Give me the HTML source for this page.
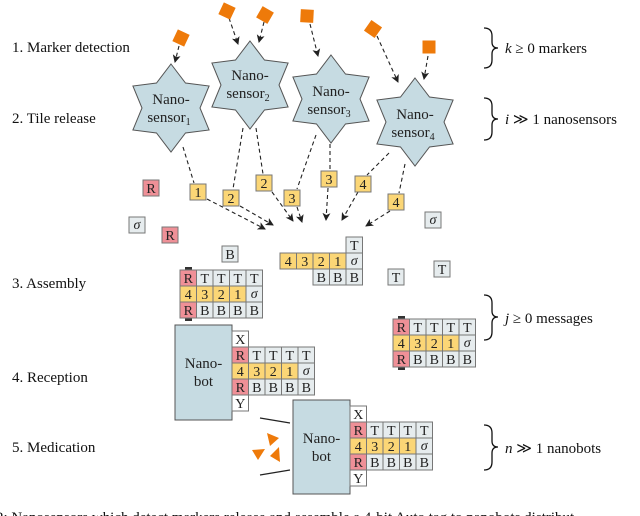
<!DOCTYPE html>
<html><head><meta charset="utf-8"><style>
body{margin:0;background:#fff;}
svg{display:block;font-family:"Liberation Serif",serif;}
.c text{font-size:14px;text-anchor:middle;fill:#222;}
.g{fill:#e6ecee;stroke:#777;stroke-width:1}
.y{fill:#fbd676;stroke:#777;stroke-width:1}
.p{fill:#ef9097;stroke:#777;stroke-width:1}
.w{fill:#fff;stroke:#777;stroke-width:1}
.d{stroke:#222;stroke-width:1.1;stroke-dasharray:4 3;fill:none}
.lab{font-size:15px;fill:#111}
.st{fill:#c6dbe2;stroke:#555;stroke-width:1}
.o{fill:#ee7a0a}
</style></head><body>
<svg width="640" height="516" viewBox="0 0 640 516" xmlns="http://www.w3.org/2000/svg">
<defs><marker id="a" markerWidth="8" markerHeight="8" refX="7" refY="4" orient="auto" markerUnits="userSpaceOnUse"><path d="M0,0 L8,4 L0,8 L2,4z" fill="#222"/></marker></defs>

<text class="lab" x="12" y="52">1. Marker detection</text>
<text class="lab" x="12" y="123">2. Tile release</text>
<text class="lab" x="12" y="288">3. Assembly</text>
<text class="lab" x="12" y="382">4. Reception</text>
<text class="lab" x="12" y="452">5. Medication</text>

<g fill="none" stroke="#111" stroke-width="1.3">
<path d="M484,28 Q492,28 492,36 L492,42 Q492,48 498,48 Q492,48 492,54 L492,60 Q492,68 484,68"/>
<path d="M484,98 Q492,98 492,106 L492,113 Q492,119 498,119 Q492,119 492,125 L492,132 Q492,140 484,140"/>
<path d="M484,295 Q492,295 492,303 L492,311 Q492,317 498,317 Q492,317 492,323 L492,332 Q492,340 484,340"/>
<path d="M484,425 Q492,425 492,433 L492,441 Q492,447 498,447 Q492,447 492,453 L492,462 Q492,470 484,470"/>
</g>
<text class="lab" x="505" y="53"><tspan font-style="italic">k</tspan> ≥ 0 markers</text>
<text class="lab" x="505" y="124"><tspan font-style="italic">i</tspan> ≫ 1 nanosensors</text>
<text class="lab" x="505" y="323"><tspan font-style="italic">j</tspan> ≥ 0 messages</text>
<text class="lab" x="505" y="453"><tspan font-style="italic">n</tspan> ≫ 1 nanobots</text>

<path class="d" d="M179,46 L175,62" marker-end="url(#a)"/>
<path class="d" d="M229,18 L238,44" marker-end="url(#a)"/>
<path class="d" d="M264,22 L259,42" marker-end="url(#a)"/>
<path class="d" d="M310,24 L318,56" marker-end="url(#a)"/>
<path class="d" d="M377,36 L398,82" marker-end="url(#a)"/>
<path class="d" d="M428,56 L424,79" marker-end="url(#a)"/>

<rect class="o" x="-6.5" y="-6.5" width="13" height="13" transform="translate(181,38) rotate(25)"/>
<rect class="o" x="-6.5" y="-6.5" width="13" height="13" transform="translate(227,11) rotate(25)"/>
<rect class="o" x="-6.5" y="-6.5" width="13" height="13" transform="translate(265,15) rotate(30)"/>
<rect class="o" x="-6.5" y="-6.5" width="13" height="13" transform="translate(307,16) rotate(3)"/>
<rect class="o" x="-6.5" y="-6.5" width="13" height="13" transform="translate(373,29) rotate(35)"/>
<rect class="o" x="-6.5" y="-6.5" width="13" height="13" transform="translate(429,47)"/>

<g class="st">
<polygon transform="translate(171,108)" points="0,-44 14.5,-25 38.1,-22 29,0 38.1,22 14.5,25 0,44 -14.5,25 -38.1,22 -29,0 -38.1,-22 -14.5,-25"/>
<polygon transform="translate(250,85)" points="0,-44 14.5,-25 38.1,-22 29,0 38.1,22 14.5,25 0,44 -14.5,25 -38.1,22 -29,0 -38.1,-22 -14.5,-25"/>
<polygon transform="translate(331,99)" points="0,-44 14.5,-25 38.1,-22 29,0 38.1,22 14.5,25 0,44 -14.5,25 -38.1,22 -29,0 -38.1,-22 -14.5,-25"/>
<polygon transform="translate(415,122)" points="0,-44 14.5,-25 38.1,-22 29,0 38.1,22 14.5,25 0,44 -14.5,25 -38.1,22 -29,0 -38.1,-22 -14.5,-25"/>
</g>
<g font-size="15" text-anchor="middle" fill="#222">
<text x="171" y="104">Nano-</text><text x="169" y="122">sensor<tspan font-size="10" dy="3">1</tspan></text>
<text x="250" y="80">Nano-</text><text x="248" y="98">sensor<tspan font-size="10" dy="3">2</tspan></text>
<text x="331" y="96">Nano-</text><text x="329" y="114">sensor<tspan font-size="10" dy="3">3</tspan></text>
<text x="415" y="119">Nano-</text><text x="413" y="137">sensor<tspan font-size="10" dy="3">4</tspan></text>
</g>

<path class="d" d="M183,147 L194,183"/>
<path class="d" d="M243,128 L233,189"/>
<path class="d" d="M256,128 L263,174"/>
<path class="d" d="M316,135 L297,189"/>
<path class="d" d="M330,144 L330,170"/>
<path class="d" d="M389,153 L367,175"/>
<path class="d" d="M405,164 L399,193"/>
<path class="d" d="M207,199 L265,229" marker-end="url(#a)"/>
<path class="d" d="M240,206 L273,225" marker-end="url(#a)"/>
<path class="d" d="M272,192 L293,221" marker-end="url(#a)"/>
<path class="d" d="M297,207 L302,222" marker-end="url(#a)"/>
<path class="d" d="M328,188 L326,220" marker-end="url(#a)"/>
<path class="d" d="M358,192 L342,220" marker-end="url(#a)"/>
<path class="d" d="M390,211 L366,226" marker-end="url(#a)"/>

<g class="c">
<rect class="y" x="190" y="184" width="16" height="16"/><text x="198" y="197">1</text>
<rect class="y" x="223" y="190" width="16" height="16"/><text x="231" y="203">2</text>
<rect class="y" x="256" y="175" width="16" height="16"/><text x="264" y="188">2</text>
<rect class="y" x="284" y="190" width="16" height="16"/><text x="292" y="203">3</text>
<rect class="y" x="321" y="171" width="16" height="16"/><text x="329" y="184">3</text>
<rect class="y" x="355" y="176" width="16" height="16"/><text x="363" y="189">4</text>
<rect class="y" x="388" y="194" width="16" height="16"/><text x="396" y="207">4</text>
<rect class="p" x="143" y="180" width="16" height="16"/><text x="151" y="193">R</text>
<rect class="g" x="129" y="217" width="16" height="16"/><text x="137" y="229" font-style="italic">σ</text>
<rect class="p" x="162" y="227" width="16" height="16"/><text x="170" y="240">R</text>
<rect class="g" x="425" y="212" width="16" height="16"/><text x="433" y="224" font-style="italic">σ</text>
<rect class="g" x="222" y="246" width="16" height="16"/><text x="230" y="259">B</text>
<rect class="g" x="388" y="269" width="16" height="16"/><text x="396" y="282">T</text>
<rect class="g" x="434" y="261" width="16" height="16"/><text x="442" y="274">T</text>
</g>

<g class="c" transform="translate(280,237)">
<rect class="g" x="66" y="0" width="16.5" height="16"/><text x="74.25" y="13">T</text>
<rect class="y" x="0" y="16" width="16.5" height="16"/><text x="8.25" y="29">4</text>
<rect class="y" x="16.5" y="16" width="16.5" height="16"/><text x="24.75" y="29">3</text>
<rect class="y" x="33" y="16" width="16.5" height="16"/><text x="41.25" y="29">2</text>
<rect class="y" x="49.5" y="16" width="16.5" height="16"/><text x="57.75" y="29">1</text>
<rect class="g" x="66" y="16" width="16.5" height="16"/><text x="74.25" y="28" font-style="italic">σ</text>
<rect class="g" x="33" y="32" width="16.5" height="16"/><text x="41.25" y="45">B</text>
<rect class="g" x="49.5" y="32" width="16.5" height="16"/><text x="57.75" y="45">B</text>
<rect class="g" x="66" y="32" width="16.5" height="16"/><text x="74.25" y="45">B</text>
</g>

<g class="c" transform="translate(180,270)">
<rect x="5" y="-3" width="7" height="3" fill="#333"/><rect x="5" y="48" width="7" height="3" fill="#333"/>
<rect class="p" x="0" y="0" width="16.5" height="16"/><text x="8.25" y="13">R</text>
<rect class="g" x="16.5" y="0" width="16.5" height="16"/><text x="24.75" y="13">T</text>
<rect class="g" x="33" y="0" width="16.5" height="16"/><text x="41.25" y="13">T</text>
<rect class="g" x="49.5" y="0" width="16.5" height="16"/><text x="57.75" y="13">T</text>
<rect class="g" x="66" y="0" width="16.5" height="16"/><text x="74.25" y="13">T</text>
<rect class="y" x="0" y="16" width="16.5" height="16"/><text x="8.25" y="29">4</text>
<rect class="y" x="16.5" y="16" width="16.5" height="16"/><text x="24.75" y="29">3</text>
<rect class="y" x="33" y="16" width="16.5" height="16"/><text x="41.25" y="29">2</text>
<rect class="y" x="49.5" y="16" width="16.5" height="16"/><text x="57.75" y="29">1</text>
<rect class="g" x="66" y="16" width="16.5" height="16"/><text x="74.25" y="28" font-style="italic">σ</text>
<rect class="p" x="0" y="32" width="16.5" height="16"/><text x="8.25" y="45">R</text>
<rect class="g" x="16.5" y="32" width="16.5" height="16"/><text x="24.75" y="45">B</text>
<rect class="g" x="33" y="32" width="16.5" height="16"/><text x="41.25" y="45">B</text>
<rect class="g" x="49.5" y="32" width="16.5" height="16"/><text x="57.75" y="45">B</text>
<rect class="g" x="66" y="32" width="16.5" height="16"/><text x="74.25" y="45">B</text>
</g>

<g class="c" transform="translate(393,319)">
<rect x="5" y="-3" width="7" height="3" fill="#333"/><rect x="5" y="48" width="7" height="3" fill="#333"/>
<rect class="p" x="0" y="0" width="16.5" height="16"/><text x="8.25" y="13">R</text>
<rect class="g" x="16.5" y="0" width="16.5" height="16"/><text x="24.75" y="13">T</text>
<rect class="g" x="33" y="0" width="16.5" height="16"/><text x="41.25" y="13">T</text>
<rect class="g" x="49.5" y="0" width="16.5" height="16"/><text x="57.75" y="13">T</text>
<rect class="g" x="66" y="0" width="16.5" height="16"/><text x="74.25" y="13">T</text>
<rect class="y" x="0" y="16" width="16.5" height="16"/><text x="8.25" y="29">4</text>
<rect class="y" x="16.5" y="16" width="16.5" height="16"/><text x="24.75" y="29">3</text>
<rect class="y" x="33" y="16" width="16.5" height="16"/><text x="41.25" y="29">2</text>
<rect class="y" x="49.5" y="16" width="16.5" height="16"/><text x="57.75" y="29">1</text>
<rect class="g" x="66" y="16" width="16.5" height="16"/><text x="74.25" y="28" font-style="italic">σ</text>
<rect class="p" x="0" y="32" width="16.5" height="16"/><text x="8.25" y="45">R</text>
<rect class="g" x="16.5" y="32" width="16.5" height="16"/><text x="24.75" y="45">B</text>
<rect class="g" x="33" y="32" width="16.5" height="16"/><text x="41.25" y="45">B</text>
<rect class="g" x="49.5" y="32" width="16.5" height="16"/><text x="57.75" y="45">B</text>
<rect class="g" x="66" y="32" width="16.5" height="16"/><text x="74.25" y="45">B</text>
</g>

<rect x="175" y="325" width="57" height="95" fill="#c6dbe2" stroke="#555"/>
<text x="203.5" y="368" font-size="15" text-anchor="middle" fill="#222">Nano-</text>
<text x="203.5" y="386" font-size="15" text-anchor="middle" fill="#222">bot</text>
<g class="c" transform="translate(232,331)">
<rect class="w" x="0" y="0" width="16.5" height="16"/><text x="8.25" y="13">X</text>
<rect class="w" x="0" y="64" width="16.5" height="16"/><text x="8.25" y="77">Y</text>
<g transform="translate(0,16)">
<rect class="p" x="0" y="0" width="16.5" height="16"/><text x="8.25" y="13">R</text>
<rect class="g" x="16.5" y="0" width="16.5" height="16"/><text x="24.75" y="13">T</text>
<rect class="g" x="33" y="0" width="16.5" height="16"/><text x="41.25" y="13">T</text>
<rect class="g" x="49.5" y="0" width="16.5" height="16"/><text x="57.75" y="13">T</text>
<rect class="g" x="66" y="0" width="16.5" height="16"/><text x="74.25" y="13">T</text>
<rect class="y" x="0" y="16" width="16.5" height="16"/><text x="8.25" y="29">4</text>
<rect class="y" x="16.5" y="16" width="16.5" height="16"/><text x="24.75" y="29">3</text>
<rect class="y" x="33" y="16" width="16.5" height="16"/><text x="41.25" y="29">2</text>
<rect class="y" x="49.5" y="16" width="16.5" height="16"/><text x="57.75" y="29">1</text>
<rect class="g" x="66" y="16" width="16.5" height="16"/><text x="74.25" y="28" font-style="italic">σ</text>
<rect class="p" x="0" y="32" width="16.5" height="16"/><text x="8.25" y="45">R</text>
<rect class="g" x="16.5" y="32" width="16.5" height="16"/><text x="24.75" y="45">B</text>
<rect class="g" x="33" y="32" width="16.5" height="16"/><text x="41.25" y="45">B</text>
<rect class="g" x="49.5" y="32" width="16.5" height="16"/><text x="57.75" y="45">B</text>
<rect class="g" x="66" y="32" width="16.5" height="16"/><text x="74.25" y="45">B</text>
</g></g>

<path d="M260,418 L290,423 M260,475 L290,470" stroke="#222" stroke-width="1.2"/>
<polygon class="o" points="267,433 279,438 270,446"/>
<polygon class="o" points="252,450 265,449 258,460"/>
<polygon class="o" points="270,456 279,447 280,462"/>
<rect x="293" y="400" width="57" height="94" fill="#c6dbe2" stroke="#555"/>
<text x="321.5" y="443" font-size="15" text-anchor="middle" fill="#222">Nano-</text>
<text x="321.5" y="461" font-size="15" text-anchor="middle" fill="#222">bot</text>
<g class="c" transform="translate(350,406)">
<rect class="w" x="0" y="0" width="16.5" height="16"/><text x="8.25" y="13">X</text>
<rect class="w" x="0" y="64" width="16.5" height="16"/><text x="8.25" y="77">Y</text>
<g transform="translate(0,16)">
<rect class="p" x="0" y="0" width="16.5" height="16"/><text x="8.25" y="13">R</text>
<rect class="g" x="16.5" y="0" width="16.5" height="16"/><text x="24.75" y="13">T</text>
<rect class="g" x="33" y="0" width="16.5" height="16"/><text x="41.25" y="13">T</text>
<rect class="g" x="49.5" y="0" width="16.5" height="16"/><text x="57.75" y="13">T</text>
<rect class="g" x="66" y="0" width="16.5" height="16"/><text x="74.25" y="13">T</text>
<rect class="y" x="0" y="16" width="16.5" height="16"/><text x="8.25" y="29">4</text>
<rect class="y" x="16.5" y="16" width="16.5" height="16"/><text x="24.75" y="29">3</text>
<rect class="y" x="33" y="16" width="16.5" height="16"/><text x="41.25" y="29">2</text>
<rect class="y" x="49.5" y="16" width="16.5" height="16"/><text x="57.75" y="29">1</text>
<rect class="g" x="66" y="16" width="16.5" height="16"/><text x="74.25" y="28" font-style="italic">σ</text>
<rect class="p" x="0" y="32" width="16.5" height="16"/><text x="8.25" y="45">R</text>
<rect class="g" x="16.5" y="32" width="16.5" height="16"/><text x="24.75" y="45">B</text>
<rect class="g" x="33" y="32" width="16.5" height="16"/><text x="41.25" y="45">B</text>
<rect class="g" x="49.5" y="32" width="16.5" height="16"/><text x="57.75" y="45">B</text>
<rect class="g" x="66" y="32" width="16.5" height="16"/><text x="74.25" y="45">B</text>
</g></g>

<text x="-4" y="522" font-size="15" fill="#111">2: Nanosensors which detect markers release and assemble a 4-bit Auto tag to nanobots distribut</text>
</svg>
</body></html>
